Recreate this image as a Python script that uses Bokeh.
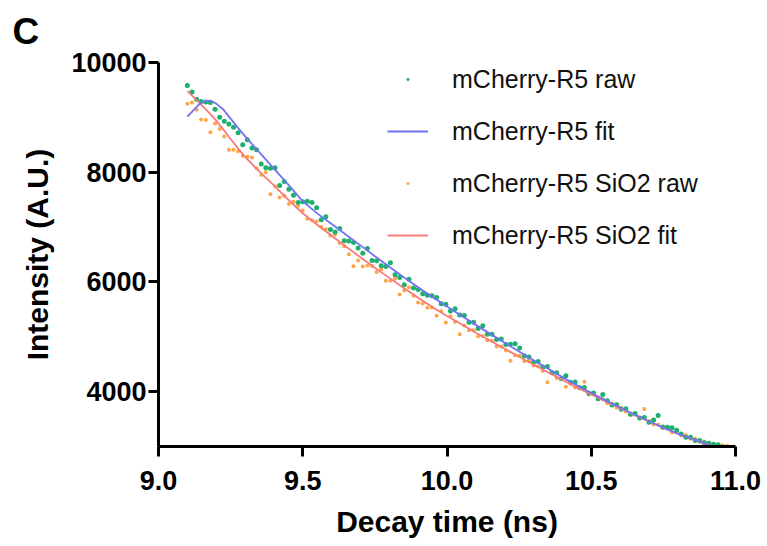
from bokeh.plotting import figure
from bokeh.models import Range1d, FixedTicker, Legend, LegendItem, PrintfTickFormatter
from bokeh.embed import file_html
from bokeh.resources import INLINE

# ---------------- data ----------------
time_ns = [
    9.100, 9.116, 9.132, 9.148, 9.164, 9.180, 9.196, 9.212, 9.228, 9.244,
    9.260, 9.276, 9.292, 9.308, 9.324, 9.340, 9.356, 9.372, 9.388, 9.404,
    9.420, 9.436, 9.452, 9.468, 9.484, 9.500, 9.516, 9.532, 9.548, 9.564,
    9.580, 9.596, 9.612, 9.628, 9.644, 9.660, 9.676, 9.692, 9.708, 9.724,
    9.740, 9.756, 9.772, 9.788, 9.804, 9.820, 9.836, 9.852, 9.868, 9.884,
    9.900, 9.916, 9.932, 9.948, 9.964, 9.980, 9.996, 10.012, 10.028, 10.044,
    10.060, 10.076, 10.092, 10.108, 10.124, 10.140, 10.156, 10.172, 10.188, 10.204,
    10.220, 10.236, 10.252, 10.268, 10.284, 10.300, 10.316, 10.332, 10.348, 10.364,
    10.380, 10.396, 10.412, 10.428, 10.444, 10.460, 10.476, 10.492, 10.508, 10.524,
    10.540, 10.556, 10.572, 10.588, 10.604, 10.620, 10.636, 10.652, 10.668, 10.684,
    10.700, 10.716, 10.732, 10.748, 10.764, 10.780, 10.796, 10.812, 10.828, 10.844,
    10.860, 10.876, 10.892, 10.908, 10.924, 10.940, 10.956, 10.972, 10.988,
]

r5_raw = [
    9580, 9460, 9330, 9290, 9280, 9270, 9150, 9000, 8930, 8880,
    8820, 8720, 8500, 8590, 8440, 8410, 8150, 8080, 8070, 8080,
    7760, 7830, 7690, 7580, 7450, 7460, 7470, 7450, 7350, 7135,
    7190, 6955, 6910, 6975, 6750, 6745, 6720, 6620, 6525, 6610,
    6390, 6385, 6295, 6280, 6350, 6130, 6080, 5950, 6050, 5890,
    5860, 5785, 5755, 5750, 5715, 5600, 5595, 5470, 5510, 5395,
    5390, 5265, 5265, 5150, 5200, 5045, 5045, 4950, 4960, 4860,
    4865, 4875, 4795, 4655, 4630, 4540, 4550, 4450, 4460, 4345,
    4345, 4235, 4290, 4170, 4175, 4070, 4075, 3970, 3975, 3870,
    3950, 3835, 3755, 3760, 3680, 3690, 3590, 3600, 3520, 3530,
    3440, 3485, 3565, 3355, 3350, 3340, 3295, 3230, 3170, 3170,
    3110, 3110, 3070, 3060, 3040, 3030,
]

sio2_raw = [
    9250, 9270, 9140, 8960, 8950, 8730, 8890, 8790, 8650, 8410,
    8410, 8380, 8300, 8280, 8270, 8070, 7950, 8000, 7600, 7740,
    7540, 7570, 7420, 7460, 7390, 7300, 7150, 7125, 7100, 7005,
    6960, 6845, 6865, 6710, 6650, 6505, 6285, 6390, 6280, 6300,
    6290, 6180, 6230, 6020, 6020, 6060, 5770, 5845, 5905, 5750,
    5625, 5605, 5530, 5535, 5385, 5465, 5260, 5375, 5275, 5045,
    5205, 5120, 5120, 5010, 5015, 4935, 4930, 4825, 4825, 4750,
    4565, 4665, 4660, 4555, 4560, 4475, 4460, 4375, 4170, 4335,
    4250, 4245, 4090, 4150, 4075, 4070, 4180, 3950, 3950, 3860,
    3860, 3790, 3785, 3705, 3705, 3640, 3580, 3580, 3510, 3685,
    3465, 3400, 3400, 3335, 3330, 3255, 3265, 3200, 3210, 3140,
    3140, 3080, 3090, 3050, 3040, 3025, 3025, 3015,
]

fit_time = [
    9.10, 9.12, 9.14, 9.16, 9.18, 9.20, 9.225, 9.25, 9.275, 9.30,
    9.35, 9.40, 9.45, 9.50, 9.55, 9.60, 9.65, 9.70, 9.75, 9.80,
    9.85, 9.90, 9.95, 10.00, 10.05, 10.10, 10.15, 10.20, 10.25, 10.30,
    10.35, 10.40, 10.45, 10.50, 10.55, 10.60, 10.65, 10.70, 10.75, 10.80,
    10.85, 10.90, 10.95,
]

r5_fit = [
    9014, 9124, 9233, 9297, 9306, 9251, 9142, 8977, 8813, 8658,
    8360, 8064, 7775, 7470, 7250, 7055, 6860, 6666, 6469, 6275,
    6085, 5901, 5722, 5552, 5384, 5217, 5053, 4891, 4730, 4571,
    4416, 4265, 4117, 3976, 3841, 3710, 3583, 3461, 3342, 3235,
    3140, 3045, 2955,
]

sio2_fit = [
    9480, 9379, 9273, 9167, 9060, 8941, 8777, 8605, 8440, 8280,
    8010, 7759, 7498, 7252, 7042, 6841, 6644, 6450, 6260, 6074,
    5891, 5713, 5537, 5380, 5227, 5075, 4927, 4781, 4637, 4495,
    4354, 4215, 4078, 3950, 3823, 3697, 3574, 3456, 3341, 3232,
    3138, 3044, 2955,
]

x_ticks = [9.0, 9.5, 10.0, 10.5, 11.0]
y_ticks = [4000, 6000, 8000, 10000]

legend_labels = ["mCherry-R5 raw", "mCherry-R5 fit", "mCherry-R5 SiO2 raw", "mCherry-R5 SiO2 fit"]
panel_letter = "C"

GREEN = "#1BB06C"
ORANGE = "#FFA447"
BLUE = "#7373F2"
RED = "#F77B7B"
FONT = "Liberation Sans"

# ---------------- figure ----------------
p = figure(width=767, height=546, output_backend="svg", toolbar_location=None,
           x_range=Range1d(9.0, 11.0), y_range=Range1d(3000, 10000),
           min_border_left=158, min_border_right=32, min_border_top=62, min_border_bottom=100)
p.outline_line_color = None
p.grid.visible = False
p.background_fill_color = "white"

# panel letter as the title
p.title.text = panel_letter
p.title.align = "left"
p.title.offset = -146
p.title.vertical_align = "top"
p.title.standoff = 18
p.title.text_font = FONT
p.title.text_font_style = "bold"
p.title.text_font_size = "37px"
p.title.text_color = "black"

# legend-only small-dot renderers (sit under the first real point of each series)
leg_or = p.scatter(time_ns[:1], sio2_raw[:1], marker="dot", size=4, color=ORANGE)
leg_gr = p.scatter(time_ns[:1], r5_raw[:1], marker="dot", size=4, color=GREEN)

r_or = p.scatter(time_ns[:len(sio2_raw)], sio2_raw, size=4, color=ORANGE, line_color=None)
r_gr = p.scatter(time_ns[:len(r5_raw)], r5_raw, size=5, color=GREEN, line_color=None)
r_red = p.line(fit_time, sio2_fit, line_color=RED, line_width=1.8)
r_blue = p.line(fit_time, r5_fit, line_color=BLUE, line_width=1.8)

# axes
for ax in (p.xaxis, p.yaxis):
    ax.axis_line_width = 3
    ax.axis_line_color = "black"
    ax.major_tick_line_width = 3
    ax.major_tick_line_color = "black"
    ax.major_tick_out = 10
    ax.major_tick_in = 0
    ax.minor_tick_line_color = None
    ax.major_label_text_font = FONT
    ax.major_label_text_font_style = "bold"
    ax.major_label_text_font_size = "27px"
    ax.major_label_text_color = "black"
    ax.axis_label_text_font = FONT
    ax.axis_label_text_font_style = "bold"
    ax.axis_label_text_font_size = "30px"
    ax.axis_label_text_color = "black"

p.xaxis.ticker = FixedTicker(ticks=x_ticks)
p.xaxis.formatter = PrintfTickFormatter(format="%.1f")
p.xaxis.major_label_standoff = 14
p.xaxis.axis_label = "Decay time (ns)"
p.xaxis.axis_label_standoff = 12

p.yaxis.ticker = FixedTicker(ticks=y_ticks)
p.yaxis.formatter = PrintfTickFormatter(format="%d")
p.yaxis.major_label_standoff = 2
p.yaxis.axis_label = "Intensity (A.U.)"
p.yaxis.axis_label_standoff = 14

# legend
legend = Legend(
    items=[LegendItem(label=legend_labels[0], renderers=[leg_gr]),
           LegendItem(label=legend_labels[1], renderers=[r_blue]),
           LegendItem(label=legend_labels[2], renderers=[leg_or]),
           LegendItem(label=legend_labels[3], renderers=[r_red])],
    location=(229, 196),
    padding=0, margin=0,
    glyph_width=41, glyph_height=30, label_height=30, spacing=22,
    label_standoff=24,
    label_text_font=FONT, label_text_font_size="25px", label_text_color="#111111",
    border_line_color=None, background_fill_alpha=0,
)
p.add_layout(legend)

open("out.html", "w").write(file_html(p, INLINE))
